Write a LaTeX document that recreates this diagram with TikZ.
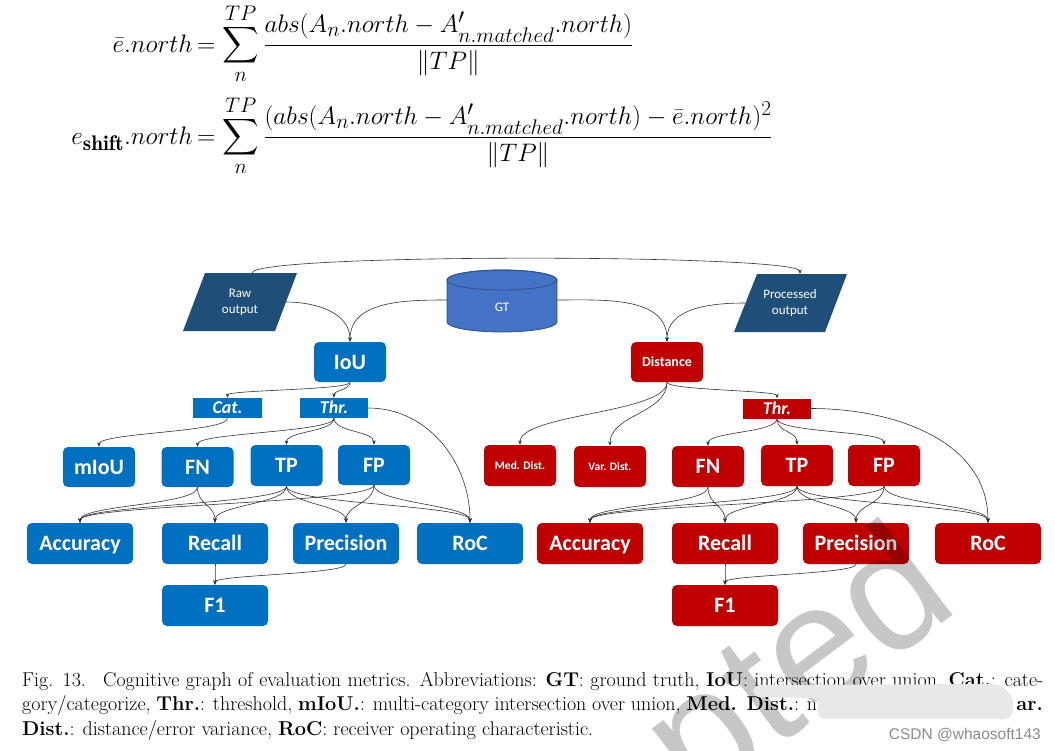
\documentclass[tikz,border=0pt]{standalone}
\usepackage{amsmath}
\usepackage{fontspec}
\newfontfamily\carlito{Carlito}
\newfontfamily\wmfont{Liberation Sans}
\usetikzlibrary{arrows.meta}
\definecolor{bl}{HTML}{0070C0}
\definecolor{rd}{HTML}{C00000}
\definecolor{navy}{HTML}{1F4E79}
\definecolor{gtfill}{HTML}{4472C4}
\definecolor{gtedge}{HTML}{2F528F}
\definecolor{ln}{HTML}{333333}
\begin{document}
\begin{tikzpicture}[x=1pt,y=-1pt,
  box/.style={rounded corners=5pt, inner sep=0pt, text=white,
    font=\carlito\bfseries\fontsize{22}{26}\selectfont, text height=14pt, text depth=0pt},
  w72/.style={minimum width=72pt, minimum height=41pt},
  w106/.style={minimum width=106pt, minimum height=41pt},
  bfill/.style={fill=bl}, rfill/.style={fill=rd},
  tag/.style={inner sep=0pt, text=white, font=\carlito\bfseries\itshape\fontsize{18}{20}\selectfont,
    minimum width=68pt, minimum height=20pt, text height=11.5pt, text depth=0pt},
  smalltxt/.style={font=\carlito\bfseries\fontsize{11.5}{13}\selectfont, text height=7.5pt},
  medtxt/.style={font=\carlito\bfseries\fontsize{14}{16}\selectfont, text height=9pt},
  io/.style={text=white, font=\carlito\fontsize{13}{16}\selectfont, align=center, inner sep=0pt},
  conn/.style={draw=ln, line width=0.6pt, -{Stealth[length=4.5pt,width=3.6pt]}},
  sc/.style={out=-90, in=90, distance=#1}, sc/.default=18pt,
  captxt/.style={inner sep=0pt, anchor=base west, font=\fontsize{20}{24}\selectfont},
  eqn/.style={inner sep=0pt, font=\fontsize{24.88}{30}\selectfont, scale=1.018, transform shape}
]
\useasboundingbox (0,0) rectangle (1055,750);
\fill[white] (0,0) rectangle (1055,750);

% ---------- equations ----------
\node[eqn, anchor=base east] (lhsA) at (193,52) {$\bar{e}.north$};
\node[eqn, anchor=base west] (rhsA) at (197,52) {$\displaystyle =\sum_{n}^{TP}\frac{abs(A_n.north-A'_{n.matched}.north)}{\|TP\|}$};
\node[eqn, anchor=base east] (lhsB) at (193,144) {$e_{\mathbf{shift}}.north$};
\node[eqn, anchor=base west] (rhsB) at (197,144) {$\displaystyle =\sum_{n}^{TP}\frac{(abs(A_n.north-A'_{n.matched}.north)-\bar{e}.north)^2}{\|TP\|}$};

% ---------- inputs ----------
\fill[navy] (183,331) -- (205,273) -- (297,273) -- (275,331) -- cycle;
\node[io] (raw) at (240,302) {Raw\\output};
\coordinate (rawR) at (286,302);
\coordinate (rawT) at (252,273);

\fill[navy] (734,332) -- (757,274) -- (847,274) -- (825,332) -- cycle;
\node[io] (proc) at (790,303) {Processed\\output};
\coordinate (procL) at (745,303);
\coordinate (procT) at (800,274);

\filldraw[fill=gtfill, draw=gtedge, line width=0.8pt]
  (447,280) -- (447,322) arc[start angle=180, end angle=360, x radius=55pt, y radius=10pt]
  -- (557,280) arc[start angle=0, end angle=180, x radius=55pt, y radius=10pt] -- cycle;
\draw[gtedge, line width=0.8pt] (502,280) ellipse [x radius=55pt, y radius=10pt];
\node[io] (gt) at (502,307) {GT};
\coordinate (gtL) at (447,300);
\coordinate (gtR) at (557,300);

% ---------- left (blue) ----------
\node[box,bfill,w72,minimum height=40pt] (iou) at (350,362) {IoU};
\node[tag,fill=bl,minimum width=69pt] (cat) at (227.5,408) {Cat.};
\node[tag,fill=bl] (thrL) at (334,408) {Thr.};
\node[box,bfill,w72,minimum height=40pt] (miou) at (99,467) {mIoU};
\node[box,bfill,w72,minimum height=40pt] (fnL) at (197.5,467) {FN};
\node[box,bfill,w72] (tpL) at (286.5,465.5) {TP};
\node[box,bfill,w72,minimum height=40pt] (fpL) at (374,465) {FP};
\node[box,bfill,w106] (accL) at (80,543.5) {Accuracy};
\node[box,bfill,w106] (recL) at (215,543.5) {Recall};
\node[box,bfill,w106] (preL) at (346,543.5) {Precision};
\node[box,bfill,w106] (rocL) at (470,543.5) {RoC};
\node[box,bfill,w106] (f1L) at (215,605.5) {F1};

% ---------- right (red) ----------
\node[box,rfill,w72,minimum height=40pt,medtxt] (dist) at (667,362) {Distance};
\node[tag,fill=rd] (thrR) at (777,408.5) {Thr.};
\node[box,rfill,w72,smalltxt] (med) at (520,465.5) {Med. Dist.};
\node[box,rfill,w72,smalltxt] (var) at (610,466.5) {Var. Dist.};
\node[box,rfill,w72] (fnR) at (708,466.5) {FN};
\node[box,rfill,w72] (tpR) at (797,465.5) {TP};
\node[box,rfill,w72] (fpR) at (884,465.5) {FP};
\node[box,rfill,w106] (accR) at (590,543.5) {Accuracy};
\node[box,rfill,w106] (recR) at (725,543.5) {Recall};
\node[box,rfill,w106] (preR) at (856,543.5) {Precision};
\node[box,rfill,w106] (rocR) at (988,543.5) {RoC};
\node[box,rfill,w106] (f1R) at (725,605.5) {F1};

% ---------- connectors: top ----------
\draw[conn] (rawT) to[out=90,in=90,distance=20pt] (procT);
\draw[conn] (rawR) to[out=0,in=90] (iou.north);
\draw[conn] (gtL) to[out=180,in=90] (iou.north);
\draw[conn] (gtR) to[out=0,in=90] (dist.north);
\draw[conn] (procL) to[out=180,in=90] (dist.north);

% ---------- connectors: left ----------
\draw[conn] (iou.south) to[sc=8pt] (cat.north);
\draw[conn] (iou.south) to[sc=8pt] (thrL.north);
\draw[conn] (cat.south) to[sc=14pt] (miou.north);
\draw[conn] (thrL.south) to[sc=14pt] (fnL.north);
\draw[conn] (thrL.south) to[sc=14pt] (tpL.north);
\draw[conn] (thrL.south) to[sc=14pt] (fpL.north);
\draw[conn] (thrL.east) to[out=0,in=90] (rocL.north);
\draw[conn] (fnL.south) to[sc] (accL.north);
\draw[conn] (fnL.south) to[sc] (recL.north);
\draw[conn] (tpL.south) to[sc] (accL.north);
\draw[conn] (tpL.south) to[sc] (recL.north);
\draw[conn] (tpL.south) to[sc] (preL.north);
\draw[conn] (tpL.south) to[sc] (rocL.north);
\draw[conn] (fpL.south) to[sc] (accL.north);
\draw[conn] (fpL.south) to[sc] (preL.north);
\draw[conn] (fpL.south) to[sc] (rocL.north);
\draw[conn] (recL.south) to[sc=10pt] (f1L.north);
\draw[conn] (preL.south) to[sc=10pt] (f1L.north);

% ---------- connectors: right ----------
\draw[conn] (dist.south) to[sc=31pt] (med.north);
\draw[conn] (dist.south) to[sc=31pt] (var.north);
\draw[conn] (dist.south) to[sc=8pt] (thrR.north);
\draw[conn] (thrR.south) to[sc=14pt] (fnR.north);
\draw[conn] (thrR.south) to[sc=14pt] (tpR.north);
\draw[conn] (thrR.south) to[sc=14pt] (fpR.north);
\draw[conn] (thrR.east) to[out=0,in=90] (rocR.north);
\draw[conn] (fnR.south) to[sc] (accR.north);
\draw[conn] (fnR.south) to[sc] (recR.north);
\draw[conn] (tpR.south) to[sc] (accR.north);
\draw[conn] (tpR.south) to[sc] (recR.north);
\draw[conn] (tpR.south) to[sc] (preR.north);
\draw[conn] (tpR.south) to[sc] (rocR.north);
\draw[conn] (fpR.south) to[sc] (accR.north);
\draw[conn] (fpR.south) to[sc] (preR.north);
\draw[conn] (fpR.south) to[sc] (rocR.north);
\draw[conn] (recR.south) to[sc=10pt] (f1R.north);
\draw[conn] (preR.south) to[sc=10pt] (f1R.north);

% ---------- caption ----------
\node[captxt] (capA) at (22,686) {\makebox[1021pt][s]{Fig. 13.\hspace{0.4em} Cognitive graph of evaluation metrics. Abbreviations: \textbf{GT}: ground truth, \textbf{IoU}: intersection over union, \textbf{Cat.}: cate-}};
\node[captxt] (capB) at (22,710) {\makebox[795pt][s]{gory/categorize, \textbf{Thr.}: threshold, \textbf{mIoU.}: multi-category intersection over union, \textbf{Med. Dist.}: n}};
\node[captxt, anchor=base east] (capB2) at (1043,710) {\textbf{ar.}};
\node[captxt] (capC) at (22,735) {\textbf{Dist.}: distance/error variance, \textbf{RoC}: receiver operating characteristic.};

% ---------- watermark ----------
\node[rotate=37, anchor=base east, inner sep=0pt, text=black, text opacity=0.22,
  font=\wmfont\fontsize{170}{170}\selectfont] (wm) at (962,608) {Accepted};
\fill[black!9, rounded corners=7pt] (753,685) -- (1000,684) -- (1014,698) -- (1012,719) -- (818,719) -- (818,698) -- (753,697) -- cycle;
\node[inner sep=0pt, anchor=base east, text=black!45, font=\wmfont\fontsize{15.5}{16}\selectfont] (csdn) at (1041,739) {CSDN @whaosoft143};
\end{tikzpicture}
\end{document}
